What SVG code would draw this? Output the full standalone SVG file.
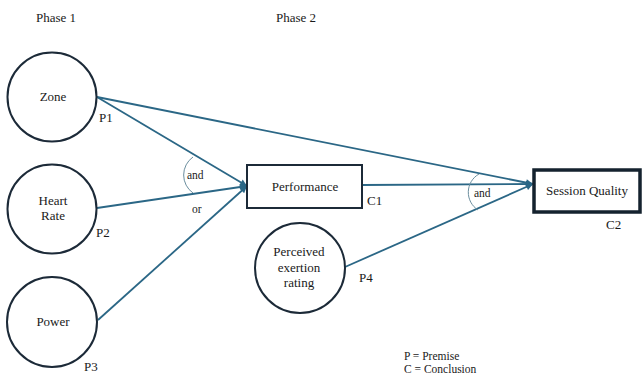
<svg xmlns="http://www.w3.org/2000/svg" width="643" height="376" viewBox="0 0 643 376">
<defs>
<style>
.node{fill:#fff;stroke:#1c2a38;stroke-width:2}
.box{fill:#fff;stroke:#1c2a38;stroke-width:2}
.boxb{fill:#fff;stroke:#14222e;stroke-width:3.5}
text{font-family:'Liberation Serif','Times New Roman','DejaVu Serif',serif;fill:#1a1a1a}
.t{font-size:13px;text-anchor:middle}
.s{font-size:13px}
.sm{font-size:11.5px}
.edge{stroke:#2b6786;stroke-width:1.8;fill:none;marker-end:url(#ah)}
.arc{stroke:#6b8e9e;stroke-width:1;fill:none}
</style>
<marker id="ah" viewBox="0 0 10 10" refX="10" refY="5" markerWidth="8" markerHeight="7" markerUnits="userSpaceOnUse" orient="auto">
<path d="M0,0 L10,5 L0,10 Z" fill="#2b6786"/>
</marker>
</defs>
<rect width="643" height="376" fill="#fff"/>
<g font-family="Liberation Serif, Times New Roman, serif">
<text class="s" x="36" y="22">Phase 1</text>
<text class="s" x="276" y="22">Phase 2</text>
<g id="connectors">
<line class="edge" x1="97" y1="97" x2="247" y2="186"/>
<line class="edge" x1="97" y1="97" x2="533" y2="184"/>
<line class="edge" x1="97" y1="208" x2="247" y2="186"/>
<line class="edge" x1="98" y1="320" x2="247" y2="186"/>
<line class="edge" x1="362" y1="185" x2="533" y2="184"/>
<line class="edge" x1="345" y1="267" x2="533" y2="184"/>
<path class="arc" d="M193,157 A22,22 0 0 0 193,193"/>
<path class="arc" d="M479,174 A21,21 0 0 0 478,210"/>
<text class="sm" x="187" y="179">and</text>
<text class="sm" x="192" y="213">or</text>
<text class="sm" x="474" y="197">and</text>
</g>
<g id="zone">
<circle class="node" cx="52" cy="97" r="44.5"/>
<text class="t" x="53" y="101">Zone</text>
<text class="s" x="99" y="122">P1</text>
</g>
<g id="heart-rate">
<circle class="node" cx="52" cy="209" r="44.5"/>
<text class="t" x="53" y="205">Heart</text>
<text class="t" x="53" y="220">Rate</text>
<text class="s" x="96" y="237">P2</text>
</g>
<g id="power">
<circle class="node" cx="52" cy="322" r="45"/>
<text class="t" x="53" y="326">Power</text>
<text class="s" x="84" y="371">P3</text>
</g>
<g id="performance">
<rect class="box" x="247" y="165" width="115" height="43"/>
<text class="t" x="305" y="191">Performance</text>
<text class="s" x="367" y="205">C1</text>
</g>
<g id="perceived">
<circle class="node" cx="300" cy="268" r="45"/>
<text class="t" x="299" y="256">Perceived</text>
<text class="t" x="299" y="272">exertion</text>
<text class="t" x="299" y="287">rating</text>
<text class="s" x="359" y="282">P4</text>
</g>
<g id="session-quality">
<rect class="boxb" x="534" y="170" width="106" height="42"/>
<text class="t" x="587" y="195">Session Quality</text>
<text class="s" x="606" y="229">C2</text>
</g>
<g id="legend">
<text class="sm" x="404" y="360">P = Premise</text>
<text class="sm" x="404" y="373">C = Conclusion</text>
</g>
</g>
</svg>
